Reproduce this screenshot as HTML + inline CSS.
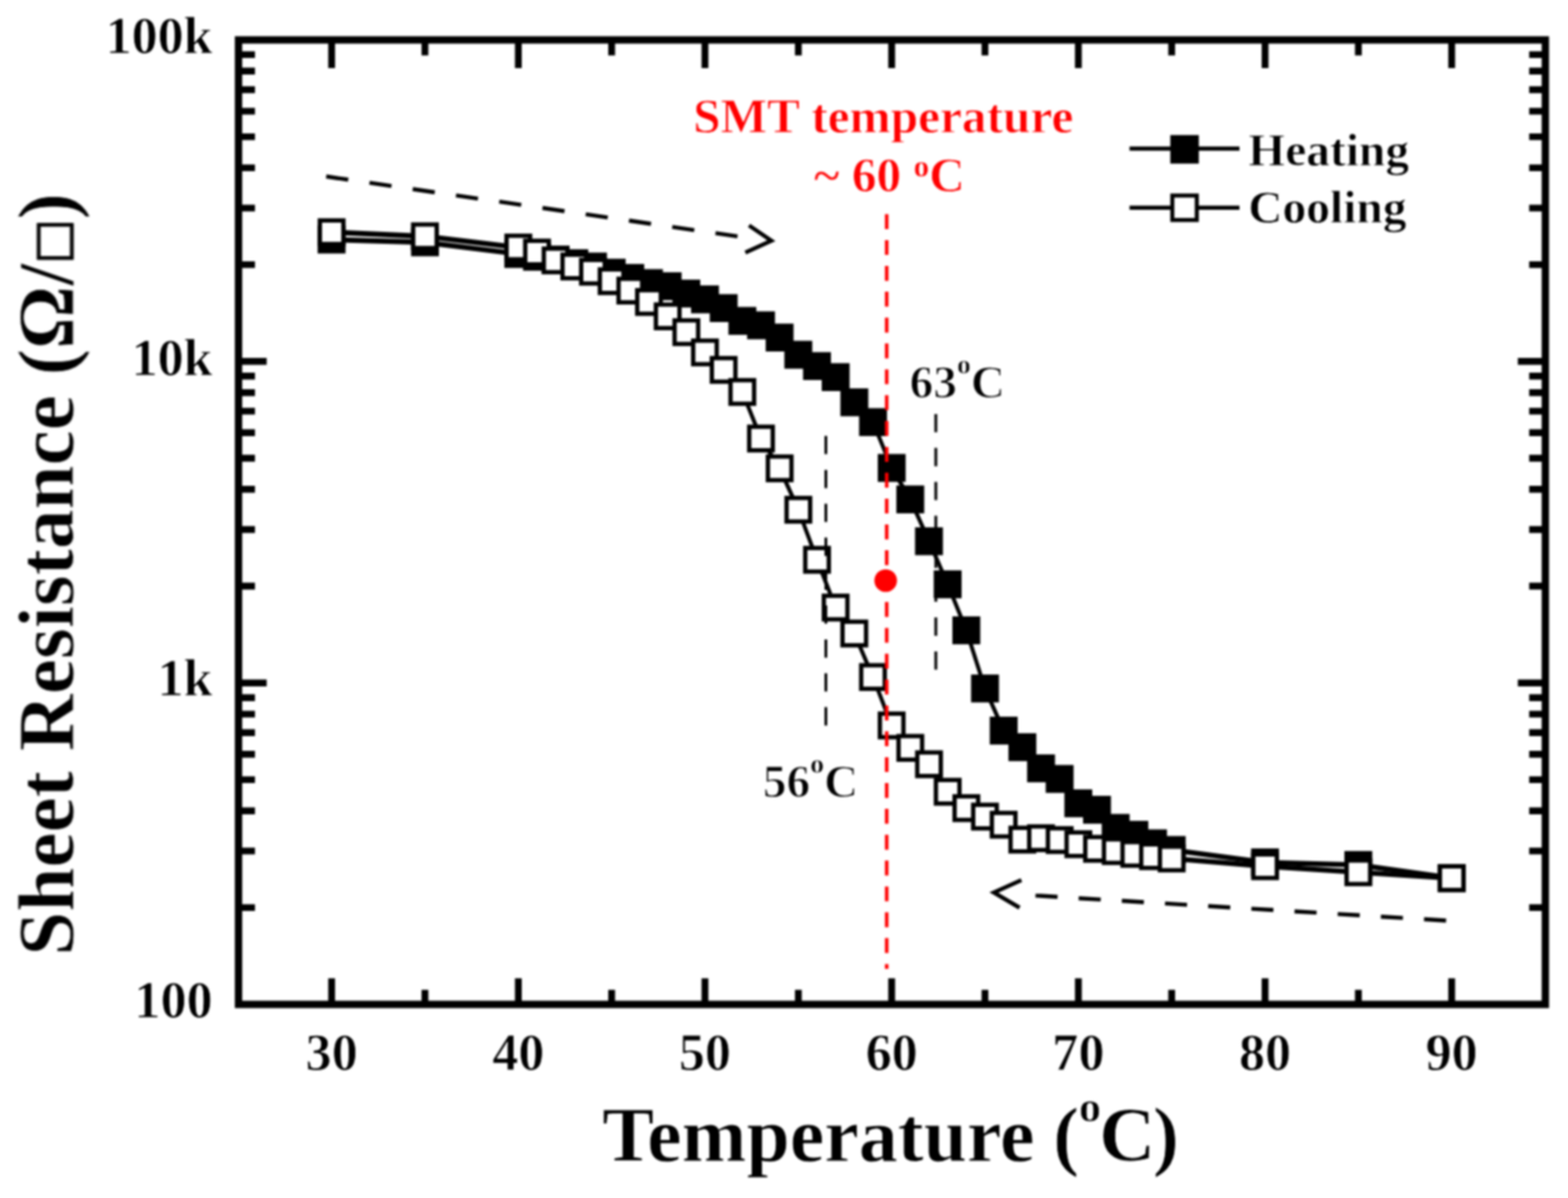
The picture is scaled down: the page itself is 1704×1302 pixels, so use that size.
<!DOCTYPE html>
<html lang="en"><head><meta charset="utf-8"><title>Sheet Resistance vs Temperature</title>
<style>
html,body{margin:0;padding:0;background:#fff;}
body{width:1704px;height:1302px;overflow:hidden;}
svg{display:block;}
text{font-family:"Liberation Serif","DejaVu Serif",serif;font-weight:bold;fill:#000;stroke:#fff;stroke-width:0.8px;stroke-linejoin:round;}
.tick{font-size:56.6px;}
.r{fill:#f00;}
.lab{stroke-width:1.15px;}
</style></head><body>
<svg width="1704" height="1302" viewBox="0 0 1704 1302">
<rect x="0" y="0" width="1704" height="1302" fill="#fff"/>
<defs><filter id="soft" filterUnits="userSpaceOnUse" x="0" y="0" width="1704" height="1302" color-interpolation-filters="sRGB"><feGaussianBlur stdDeviation="0.9"/></filter></defs>
<g id="chart" filter="url(#soft)">
<rect x="259.2" y="43.4" width="1420.2" height="1048.2" fill="none" stroke="#000" stroke-width="8.0"/>
<path d="M360.4 43.4v30.7M360.4 1091.6v-28.4M461.8 43.4v16.8M461.8 1091.6v-15.8M563.3 43.4v30.7M563.3 1091.6v-28.4M664.7 43.4v16.8M664.7 1091.6v-15.8M766.1 43.4v30.7M766.1 1091.6v-28.4M867.6 43.4v16.8M867.6 1091.6v-15.8M969.0 43.4v30.7M969.0 1091.6v-28.4M1070.4 43.4v16.8M1070.4 1091.6v-15.8M1171.9 43.4v30.7M1171.9 1091.6v-28.4M1273.3 43.4v16.8M1273.3 1091.6v-15.8M1374.8 43.4v30.7M1374.8 1091.6v-28.4M1476.2 43.4v16.8M1476.2 1091.6v-15.8M1577.6 43.4v30.7M1577.6 1091.6v-28.4M259.2 986.4h17.9M1679.4 986.4h-17.6M259.2 924.9h17.9M1679.4 924.9h-17.6M259.2 881.2h17.9M1679.4 881.2h-17.6M259.2 847.4h17.9M1679.4 847.4h-17.6M259.2 819.7h17.9M1679.4 819.7h-17.6M259.2 796.3h17.9M1679.4 796.3h-17.6M259.2 776.1h17.9M1679.4 776.1h-17.6M259.2 758.2h17.9M1679.4 758.2h-17.6M259.2 742.2h30.6M1679.4 742.2h-29.9M259.2 637.0h17.9M1679.4 637.0h-17.6M259.2 575.5h17.9M1679.4 575.5h-17.6M259.2 531.8h17.9M1679.4 531.8h-17.6M259.2 498.0h17.9M1679.4 498.0h-17.6M259.2 470.3h17.9M1679.4 470.3h-17.6M259.2 446.9h17.9M1679.4 446.9h-17.6M259.2 426.7h17.9M1679.4 426.7h-17.6M259.2 408.8h17.9M1679.4 408.8h-17.6M259.2 392.8h30.6M1679.4 392.8h-29.9M259.2 287.6h17.9M1679.4 287.6h-17.6M259.2 226.1h17.9M1679.4 226.1h-17.6M259.2 182.4h17.9M1679.4 182.4h-17.6M259.2 148.6h17.9M1679.4 148.6h-17.6M259.2 120.9h17.9M1679.4 120.9h-17.6M259.2 97.5h17.9M1679.4 97.5h-17.6M259.2 77.3h17.9M1679.4 77.3h-17.6M259.2 59.4h17.9M1679.4 59.4h-17.6" fill="none" stroke="#000" stroke-width="7.4"/>
<text class="tick" x="360.4" y="1163.2" text-anchor="middle">30</text>
<text class="tick" x="563.3" y="1163.2" text-anchor="middle">40</text>
<text class="tick" x="766.1" y="1163.2" text-anchor="middle">50</text>
<text class="tick" x="969.0" y="1163.2" text-anchor="middle">60</text>
<text class="tick" x="1171.9" y="1163.2" text-anchor="middle">70</text>
<text class="tick" x="1374.8" y="1163.2" text-anchor="middle">80</text>
<text class="tick" x="1577.6" y="1163.2" text-anchor="middle">90</text>
<text class="tick" x="231" y="58.0" text-anchor="end">100k</text>
<text class="tick" x="231" y="408.3" text-anchor="end">10k</text>
<text class="tick" x="231" y="755.7" text-anchor="end">1k</text>
<text class="tick" x="231" y="1106.3" text-anchor="end">100</text>
<text x="654.5" y="1262.3" font-size="84.6">Temperature <tspan x="1144.5">(</tspan><tspan x="1172.5" dy="-43" font-size="48">o</tspan><tspan x="1194.5" dy="43">C</tspan><tspan x="1253">)</tspan></text>
<text transform="translate(79.4 624.2) rotate(-90)" text-anchor="middle" font-size="86">Sheet Resistance (Ω/<tspan font-family="'DejaVu Sans',sans-serif" font-weight="bold" font-size="51" dy="-6.5" stroke="#000" stroke-width="1.3">□</tspan><tspan dy="6.5">)</tspan></text>
<g id="heating">
<line x1="360.4" y1="260.4" x2="461.8" y2="263.4" stroke="#000" stroke-width="5.70"/>
<line x1="461.8" y1="263.4" x2="563.3" y2="276.0" stroke="#000" stroke-width="5.68"/>
<line x1="563.3" y1="276.0" x2="583.6" y2="279.0" stroke="#000" stroke-width="5.67"/>
<line x1="583.6" y1="279.0" x2="603.8" y2="282.0" stroke="#000" stroke-width="5.67"/>
<line x1="603.8" y1="282.0" x2="624.1" y2="286.0" stroke="#000" stroke-width="5.64"/>
<line x1="624.1" y1="286.0" x2="644.4" y2="289.6" stroke="#000" stroke-width="5.65"/>
<line x1="644.4" y1="289.6" x2="664.7" y2="296.3" stroke="#000" stroke-width="5.54"/>
<line x1="664.7" y1="296.3" x2="685.0" y2="302.0" stroke="#000" stroke-width="5.58"/>
<line x1="685.0" y1="302.0" x2="705.3" y2="307.6" stroke="#000" stroke-width="5.59"/>
<line x1="705.3" y1="307.6" x2="725.6" y2="311.0" stroke="#000" stroke-width="5.66"/>
<line x1="725.6" y1="311.0" x2="745.9" y2="319.0" stroke="#000" stroke-width="5.48"/>
<line x1="745.9" y1="319.0" x2="766.1" y2="325.4" stroke="#000" stroke-width="5.56"/>
<line x1="766.1" y1="325.4" x2="786.4" y2="334.8" stroke="#000" stroke-width="5.42"/>
<line x1="786.4" y1="334.8" x2="806.7" y2="348.7" stroke="#000" stroke-width="5.19"/>
<line x1="806.7" y1="348.7" x2="827.0" y2="353.5" stroke="#000" stroke-width="5.62"/>
<line x1="827.0" y1="353.5" x2="847.3" y2="366.8" stroke="#000" stroke-width="5.22"/>
<line x1="847.3" y1="366.8" x2="867.6" y2="385.5" stroke="#000" stroke-width="4.97"/>
<line x1="867.6" y1="385.5" x2="887.9" y2="397.8" stroke="#000" stroke-width="5.27"/>
<line x1="887.9" y1="397.8" x2="908.1" y2="409.8" stroke="#000" stroke-width="5.29"/>
<line x1="908.1" y1="409.8" x2="928.4" y2="437.2" stroke="#000" stroke-width="4.67"/>
<line x1="928.4" y1="437.2" x2="948.7" y2="458.7" stroke="#000" stroke-width="4.85"/>
<line x1="948.7" y1="458.7" x2="969.0" y2="508.5" stroke="#000" stroke-width="4.33"/>
<line x1="969.0" y1="508.5" x2="989.3" y2="542.8" stroke="#000" stroke-width="4.51"/>
<line x1="989.3" y1="542.8" x2="1009.6" y2="588.2" stroke="#000" stroke-width="4.37"/>
<line x1="1009.6" y1="588.2" x2="1029.9" y2="635.0" stroke="#000" stroke-width="4.35"/>
<line x1="1029.9" y1="635.0" x2="1050.2" y2="685.0" stroke="#000" stroke-width="4.33"/>
<line x1="1050.2" y1="685.0" x2="1070.4" y2="748.3" stroke="#000" stroke-width="4.25"/>
<line x1="1070.4" y1="748.3" x2="1090.7" y2="794.0" stroke="#000" stroke-width="4.36"/>
<line x1="1090.7" y1="794.0" x2="1111.0" y2="812.0" stroke="#000" stroke-width="5.00"/>
<line x1="1111.0" y1="812.0" x2="1131.3" y2="835.0" stroke="#000" stroke-width="4.80"/>
<line x1="1131.3" y1="835.0" x2="1151.6" y2="846.5" stroke="#000" stroke-width="5.31"/>
<line x1="1151.6" y1="846.5" x2="1171.9" y2="873.0" stroke="#000" stroke-width="4.69"/>
<line x1="1171.9" y1="873.0" x2="1192.2" y2="880.0" stroke="#000" stroke-width="5.53"/>
<line x1="1192.2" y1="880.0" x2="1212.5" y2="899.7" stroke="#000" stroke-width="4.92"/>
<line x1="1212.5" y1="899.7" x2="1232.7" y2="907.2" stroke="#000" stroke-width="5.51"/>
<line x1="1232.7" y1="907.2" x2="1253.0" y2="916.5" stroke="#000" stroke-width="5.42"/>
<line x1="1253.0" y1="916.5" x2="1273.3" y2="923.7" stroke="#000" stroke-width="5.52"/>
<line x1="1273.3" y1="923.7" x2="1374.8" y2="937.3" stroke="#000" stroke-width="5.67"/>
<line x1="1374.8" y1="937.3" x2="1476.2" y2="940.0" stroke="#000" stroke-width="5.70"/>
<line x1="1476.2" y1="940.0" x2="1577.6" y2="954.4" stroke="#000" stroke-width="5.67"/>
<rect x="345.2" y="245.2" width="30.3" height="30.3" fill="#000"/>
<rect x="446.7" y="248.2" width="30.3" height="30.3" fill="#000"/>
<rect x="548.1" y="260.9" width="30.3" height="30.3" fill="#000"/>
<rect x="568.4" y="263.9" width="30.3" height="30.3" fill="#000"/>
<rect x="588.7" y="266.9" width="30.3" height="30.3" fill="#000"/>
<rect x="609.0" y="270.9" width="30.3" height="30.3" fill="#000"/>
<rect x="629.3" y="274.5" width="30.3" height="30.3" fill="#000"/>
<rect x="649.6" y="281.2" width="30.3" height="30.3" fill="#000"/>
<rect x="669.8" y="286.9" width="30.3" height="30.3" fill="#000"/>
<rect x="690.1" y="292.5" width="30.3" height="30.3" fill="#000"/>
<rect x="710.4" y="295.9" width="30.3" height="30.3" fill="#000"/>
<rect x="730.7" y="303.9" width="30.3" height="30.3" fill="#000"/>
<rect x="751.0" y="310.2" width="30.3" height="30.3" fill="#000"/>
<rect x="771.3" y="319.7" width="30.3" height="30.3" fill="#000"/>
<rect x="791.6" y="333.6" width="30.3" height="30.3" fill="#000"/>
<rect x="811.9" y="338.4" width="30.3" height="30.3" fill="#000"/>
<rect x="832.1" y="351.7" width="30.3" height="30.3" fill="#000"/>
<rect x="852.4" y="370.4" width="30.3" height="30.3" fill="#000"/>
<rect x="872.7" y="382.7" width="30.3" height="30.3" fill="#000"/>
<rect x="893.0" y="394.7" width="30.3" height="30.3" fill="#000"/>
<rect x="913.3" y="422.1" width="30.3" height="30.3" fill="#000"/>
<rect x="933.6" y="443.6" width="30.3" height="30.3" fill="#000"/>
<rect x="953.9" y="493.4" width="30.3" height="30.3" fill="#000"/>
<rect x="974.1" y="527.6" width="30.3" height="30.3" fill="#000"/>
<rect x="994.4" y="573.1" width="30.3" height="30.3" fill="#000"/>
<rect x="1014.7" y="619.9" width="30.3" height="30.3" fill="#000"/>
<rect x="1035.0" y="669.9" width="30.3" height="30.3" fill="#000"/>
<rect x="1055.3" y="733.1" width="30.3" height="30.3" fill="#000"/>
<rect x="1075.6" y="778.9" width="30.3" height="30.3" fill="#000"/>
<rect x="1095.9" y="796.9" width="30.3" height="30.3" fill="#000"/>
<rect x="1116.2" y="819.9" width="30.3" height="30.3" fill="#000"/>
<rect x="1136.4" y="831.4" width="30.3" height="30.3" fill="#000"/>
<rect x="1156.7" y="857.9" width="30.3" height="30.3" fill="#000"/>
<rect x="1177.0" y="864.9" width="30.3" height="30.3" fill="#000"/>
<rect x="1197.3" y="884.6" width="30.3" height="30.3" fill="#000"/>
<rect x="1217.6" y="892.1" width="30.3" height="30.3" fill="#000"/>
<rect x="1237.9" y="901.4" width="30.3" height="30.3" fill="#000"/>
<rect x="1258.2" y="908.6" width="30.3" height="30.3" fill="#000"/>
<rect x="1359.6" y="922.1" width="30.3" height="30.3" fill="#000"/>
<rect x="1461.0" y="924.9" width="30.3" height="30.3" fill="#000"/>
<rect x="1562.5" y="939.2" width="30.3" height="30.3" fill="#000"/>
</g>
<g id="cooling">
<line x1="360.4" y1="252.4" x2="461.8" y2="256.8" stroke="#000" stroke-width="5.70"/>
<line x1="461.8" y1="256.8" x2="563.3" y2="269.0" stroke="#000" stroke-width="5.68"/>
<line x1="563.3" y1="269.0" x2="583.6" y2="274.5" stroke="#000" stroke-width="5.59"/>
<line x1="583.6" y1="274.5" x2="603.8" y2="283.0" stroke="#000" stroke-width="5.46"/>
<line x1="603.8" y1="283.0" x2="624.1" y2="289.6" stroke="#000" stroke-width="5.55"/>
<line x1="624.1" y1="289.6" x2="644.4" y2="295.3" stroke="#000" stroke-width="5.58"/>
<line x1="644.4" y1="295.3" x2="664.7" y2="305.6" stroke="#000" stroke-width="5.37"/>
<line x1="664.7" y1="305.6" x2="685.0" y2="315.8" stroke="#000" stroke-width="5.38"/>
<line x1="685.0" y1="315.8" x2="705.3" y2="328.2" stroke="#000" stroke-width="5.26"/>
<line x1="705.3" y1="328.2" x2="725.6" y2="343.8" stroke="#000" stroke-width="5.11"/>
<line x1="725.6" y1="343.8" x2="745.9" y2="361.0" stroke="#000" stroke-width="5.03"/>
<line x1="745.9" y1="361.0" x2="766.1" y2="383.0" stroke="#000" stroke-width="4.84"/>
<line x1="766.1" y1="383.0" x2="786.4" y2="402.0" stroke="#000" stroke-width="4.95"/>
<line x1="786.4" y1="402.0" x2="806.7" y2="426.0" stroke="#000" stroke-width="4.77"/>
<line x1="806.7" y1="426.0" x2="827.0" y2="476.6" stroke="#000" stroke-width="4.32"/>
<line x1="827.0" y1="476.6" x2="847.3" y2="509.0" stroke="#000" stroke-width="4.55"/>
<line x1="847.3" y1="509.0" x2="867.6" y2="554.0" stroke="#000" stroke-width="4.37"/>
<line x1="867.6" y1="554.0" x2="887.9" y2="608.4" stroke="#000" stroke-width="4.30"/>
<line x1="887.9" y1="608.4" x2="908.1" y2="660.3" stroke="#000" stroke-width="4.31"/>
<line x1="908.1" y1="660.3" x2="928.4" y2="688.5" stroke="#000" stroke-width="4.65"/>
<line x1="928.4" y1="688.5" x2="948.7" y2="735.8" stroke="#000" stroke-width="4.35"/>
<line x1="948.7" y1="735.8" x2="969.0" y2="788.4" stroke="#000" stroke-width="4.31"/>
<line x1="969.0" y1="788.4" x2="989.3" y2="812.8" stroke="#000" stroke-width="4.75"/>
<line x1="989.3" y1="812.8" x2="1009.6" y2="830.6" stroke="#000" stroke-width="5.00"/>
<line x1="1009.6" y1="830.6" x2="1029.9" y2="860.5" stroke="#000" stroke-width="4.60"/>
<line x1="1029.9" y1="860.5" x2="1050.2" y2="878.3" stroke="#000" stroke-width="5.00"/>
<line x1="1050.2" y1="878.3" x2="1070.4" y2="887.5" stroke="#000" stroke-width="5.43"/>
<line x1="1070.4" y1="887.5" x2="1090.7" y2="896.3" stroke="#000" stroke-width="5.45"/>
<line x1="1090.7" y1="896.3" x2="1111.0" y2="912.5" stroke="#000" stroke-width="5.08"/>
<line x1="1111.0" y1="912.5" x2="1131.3" y2="911.0" stroke="#000" stroke-width="5.69"/>
<line x1="1131.3" y1="911.0" x2="1151.6" y2="913.0" stroke="#000" stroke-width="5.68"/>
<line x1="1151.6" y1="913.0" x2="1171.9" y2="917.5" stroke="#000" stroke-width="5.62"/>
<line x1="1171.9" y1="917.5" x2="1192.2" y2="922.5" stroke="#000" stroke-width="5.61"/>
<line x1="1192.2" y1="922.5" x2="1212.5" y2="925.0" stroke="#000" stroke-width="5.68"/>
<line x1="1212.5" y1="925.0" x2="1232.7" y2="928.0" stroke="#000" stroke-width="5.67"/>
<line x1="1232.7" y1="928.0" x2="1253.0" y2="930.5" stroke="#000" stroke-width="5.68"/>
<line x1="1253.0" y1="930.5" x2="1273.3" y2="933.0" stroke="#000" stroke-width="5.68"/>
<line x1="1273.3" y1="933.0" x2="1374.8" y2="941.4" stroke="#000" stroke-width="5.69"/>
<line x1="1374.8" y1="941.4" x2="1476.2" y2="948.0" stroke="#000" stroke-width="5.69"/>
<line x1="1476.2" y1="948.0" x2="1577.6" y2="954.4" stroke="#000" stroke-width="5.69"/>
<rect x="347.6" y="239.6" width="25.6" height="25.6" fill="#fff" stroke="#000" stroke-width="4.7"/>
<rect x="449.0" y="244.0" width="25.6" height="25.6" fill="#fff" stroke="#000" stroke-width="4.7"/>
<rect x="550.5" y="256.2" width="25.6" height="25.6" fill="#fff" stroke="#000" stroke-width="4.7"/>
<rect x="570.8" y="261.7" width="25.6" height="25.6" fill="#fff" stroke="#000" stroke-width="4.7"/>
<rect x="591.0" y="270.2" width="25.6" height="25.6" fill="#fff" stroke="#000" stroke-width="4.7"/>
<rect x="611.3" y="276.8" width="25.6" height="25.6" fill="#fff" stroke="#000" stroke-width="4.7"/>
<rect x="631.6" y="282.5" width="25.6" height="25.6" fill="#fff" stroke="#000" stroke-width="4.7"/>
<rect x="651.9" y="292.8" width="25.6" height="25.6" fill="#fff" stroke="#000" stroke-width="4.7"/>
<rect x="672.2" y="303.0" width="25.6" height="25.6" fill="#fff" stroke="#000" stroke-width="4.7"/>
<rect x="692.5" y="315.4" width="25.6" height="25.6" fill="#fff" stroke="#000" stroke-width="4.7"/>
<rect x="712.8" y="331.0" width="25.6" height="25.6" fill="#fff" stroke="#000" stroke-width="4.7"/>
<rect x="733.1" y="348.2" width="25.6" height="25.6" fill="#fff" stroke="#000" stroke-width="4.7"/>
<rect x="753.3" y="370.2" width="25.6" height="25.6" fill="#fff" stroke="#000" stroke-width="4.7"/>
<rect x="773.6" y="389.2" width="25.6" height="25.6" fill="#fff" stroke="#000" stroke-width="4.7"/>
<rect x="793.9" y="413.2" width="25.6" height="25.6" fill="#fff" stroke="#000" stroke-width="4.7"/>
<rect x="814.2" y="463.8" width="25.6" height="25.6" fill="#fff" stroke="#000" stroke-width="4.7"/>
<rect x="834.5" y="496.2" width="25.6" height="25.6" fill="#fff" stroke="#000" stroke-width="4.7"/>
<rect x="854.8" y="541.2" width="25.6" height="25.6" fill="#fff" stroke="#000" stroke-width="4.7"/>
<rect x="875.1" y="595.6" width="25.6" height="25.6" fill="#fff" stroke="#000" stroke-width="4.7"/>
<rect x="895.3" y="647.5" width="25.6" height="25.6" fill="#fff" stroke="#000" stroke-width="4.7"/>
<rect x="915.6" y="675.7" width="25.6" height="25.6" fill="#fff" stroke="#000" stroke-width="4.7"/>
<rect x="935.9" y="723.0" width="25.6" height="25.6" fill="#fff" stroke="#000" stroke-width="4.7"/>
<rect x="956.2" y="775.6" width="25.6" height="25.6" fill="#fff" stroke="#000" stroke-width="4.7"/>
<rect x="976.5" y="800.0" width="25.6" height="25.6" fill="#fff" stroke="#000" stroke-width="4.7"/>
<rect x="996.8" y="817.8" width="25.6" height="25.6" fill="#fff" stroke="#000" stroke-width="4.7"/>
<rect x="1017.1" y="847.7" width="25.6" height="25.6" fill="#fff" stroke="#000" stroke-width="4.7"/>
<rect x="1037.4" y="865.5" width="25.6" height="25.6" fill="#fff" stroke="#000" stroke-width="4.7"/>
<rect x="1057.6" y="874.7" width="25.6" height="25.6" fill="#fff" stroke="#000" stroke-width="4.7"/>
<rect x="1077.9" y="883.5" width="25.6" height="25.6" fill="#fff" stroke="#000" stroke-width="4.7"/>
<rect x="1098.2" y="899.7" width="25.6" height="25.6" fill="#fff" stroke="#000" stroke-width="4.7"/>
<rect x="1118.5" y="898.2" width="25.6" height="25.6" fill="#fff" stroke="#000" stroke-width="4.7"/>
<rect x="1138.8" y="900.2" width="25.6" height="25.6" fill="#fff" stroke="#000" stroke-width="4.7"/>
<rect x="1159.1" y="904.7" width="25.6" height="25.6" fill="#fff" stroke="#000" stroke-width="4.7"/>
<rect x="1179.4" y="909.7" width="25.6" height="25.6" fill="#fff" stroke="#000" stroke-width="4.7"/>
<rect x="1199.7" y="912.2" width="25.6" height="25.6" fill="#fff" stroke="#000" stroke-width="4.7"/>
<rect x="1219.9" y="915.2" width="25.6" height="25.6" fill="#fff" stroke="#000" stroke-width="4.7"/>
<rect x="1240.2" y="917.7" width="25.6" height="25.6" fill="#fff" stroke="#000" stroke-width="4.7"/>
<rect x="1260.5" y="920.2" width="25.6" height="25.6" fill="#fff" stroke="#000" stroke-width="4.7"/>
<rect x="1362.0" y="928.6" width="25.6" height="25.6" fill="#fff" stroke="#000" stroke-width="4.7"/>
<rect x="1463.4" y="935.2" width="25.6" height="25.6" fill="#fff" stroke="#000" stroke-width="4.7"/>
<rect x="1564.8" y="941.6" width="25.6" height="25.6" fill="#fff" stroke="#000" stroke-width="4.7"/>
</g>
<g id="annot" fill="none">
<line x1="897.5" y1="473.8" x2="897.5" y2="789.5" stroke="#000" stroke-width="3" stroke-dasharray="19.8 17.05"/>
<line x1="1017" y1="450" x2="1017" y2="728.5" stroke="#000" stroke-width="3" stroke-dasharray="19.8 17.05"/>
<line x1="963.6" y1="232.8" x2="963.6" y2="1053" stroke="#f00" stroke-width="3.8" stroke-dasharray="16.2 11.9"/>
<circle cx="962.5" cy="631" r="12.3" fill="#f00"/>
<line x1="354.5" y1="191.8" x2="803.4" y2="257.2" stroke="#000" stroke-width="4.4" stroke-dasharray="24.2 23.3"/>
<polyline points="814,245 838.3,261.6 810,274.5" stroke="#000" stroke-width="4.4"/>
<line x1="1571.5" y1="1000.5" x2="1120" y2="973" stroke="#000" stroke-width="4.4" stroke-dasharray="24 23"/>
<polyline points="1110,956.5 1080,970 1108,986.5" stroke="#000" stroke-width="4.4"/>
</g>
<g id="legend">
<line x1="1227.5" y1="161.5" x2="1347" y2="161.5" stroke="#000" stroke-width="4.4"/>
<rect x="1271.8" y="146.8" width="31" height="31" fill="#000"/>
<text x="1356.5" y="179.7" font-size="51.6">Heating</text>
<line x1="1227.5" y1="225.8" x2="1347" y2="225.8" stroke="#000" stroke-width="4.4"/>
<rect x="1274.0" y="212.5" width="26.6" height="26.6" fill="#fff" stroke="#000" stroke-width="4.4"/>
<text x="1356.5" y="242.0" font-size="51.6">Cooling</text>
</g>
<text class="r" x="959.8" y="144.2" text-anchor="middle" font-size="53.6">SMT temperature</text>
<text class="r" x="966.5" y="208.2" text-anchor="middle" font-size="53.6">~ 60 <tspan font-size="34" dy="-16" stroke-width="0.4">o</tspan><tspan dy="16">C</tspan></text>
<text class="lab" x="988.5" y="431.5" font-size="51.5">63<tspan font-size="30" dy="-26" stroke-width="0.5">o</tspan><tspan dy="26">C</tspan></text>
<text class="lab" x="829" y="866" font-size="51.5">56<tspan font-size="30" dy="-26" stroke-width="0.5">o</tspan><tspan dy="26">C</tspan></text>
</g></svg></body></html>
